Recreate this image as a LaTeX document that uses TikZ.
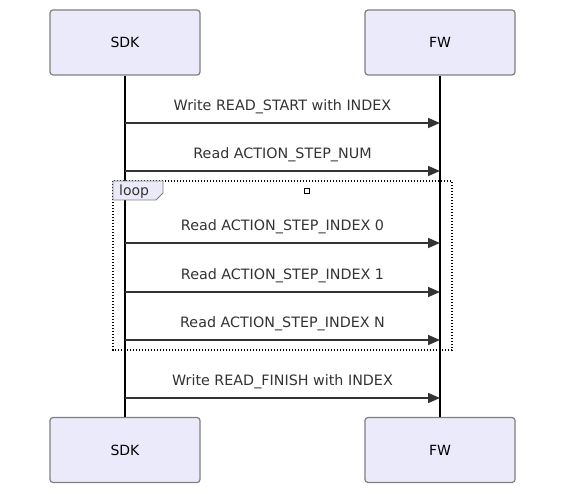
\documentclass[tikz,border=0pt]{standalone}
\usepackage{fontspec}
\setmainfont{DejaVu Sans}
\usetikzlibrary{arrows.meta,calc}
\definecolor{actfill}{HTML}{EAEAFA}
\definecolor{actdraw}{HTML}{7F7F7F}
\definecolor{msg}{HTML}{333333}
\begin{document}
\begin{tikzpicture}[x=1pt,y=-1pt,
  actor/.style={draw=actdraw,fill=actfill,line width=1.2pt,rounded corners=3pt,minimum width=150pt,minimum height=65pt,font=\fontsize{14}{16}\selectfont,inner sep=0pt},
  msgarrow/.style={draw=msg,line width=1.6pt,-{Triangle[length=12pt,width=10pt]}},
  msglabel/.style={font=\fontsize{14.3}{16}\selectfont,text=msg,inner sep=0pt},
  life/.style={draw=black,line width=1.6pt}]
\useasboundingbox (0,0) rectangle (565,494);
\node[actor] (sdkT) at (125,42.5) {SDK};
\node[actor] (fwT) at (440,42.5) {FW};
\node[actor] (sdkB) at (125,450) {SDK};
\node[actor] (fwB) at (440,450) {FW};
\draw[life] (sdkT.south) -- (sdkB.north);
\draw[life] (fwT.south) -- (fwB.north);
% loop frame
\draw[black,line width=1.4pt,dash pattern=on 1.4pt off 1.6pt] (113,181) rectangle (452,350);
\path[draw=actdraw,fill=actfill,line width=0.8pt] (113,181) -- (163,181) -- (163,193) -- (156,200) -- (113,200) -- cycle;
\node[font=\fontsize{14}{16}\selectfont,text=msg,anchor=west,inner sep=0pt] (looplabel) at (119,192) {loop};
\node[draw=black,line width=0.8pt,minimum size=5pt,inner sep=0pt] (marker) at (307,191) {};
% messages
\foreach \y/\t [count=\i] in {123/Write READ\_START with INDEX,171/Read ACTION\_STEP\_NUM,243/Read ACTION\_STEP\_INDEX 0,292/Read ACTION\_STEP\_INDEX 1,340/Read ACTION\_STEP\_INDEX N,398/Write READ\_FINISH with INDEX}{
  \coordinate (s\i) at (sdkT.south |- 0,\y);
  \coordinate (f\i) at (fwT.south |- 0,\y);
  \draw[msgarrow] (s\i) -- (f\i);
  \node[msglabel] (l\i) at ($(s\i)!0.5!(f\i)+(0,-16.5)$) {\t};
}
\end{tikzpicture}
\end{document}
